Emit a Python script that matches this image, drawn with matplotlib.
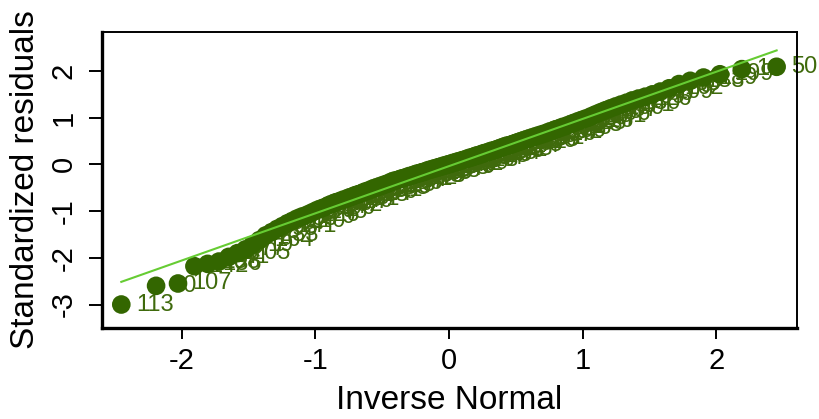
import matplotlib
matplotlib.use("Agg")
import matplotlib.pyplot as plt
import numpy as np
from statistics import NormalDist

# sorted standardized residuals
resid = [
    -3.00, -2.60, -2.55, -2.18, -2.13, -2.08, -1.98, -1.90, -1.82, -1.72,
    -1.62, -1.52, -1.45, -1.38, -1.32, -1.26, -1.21, -1.16, -1.12, -1.09,
    -1.05, -1.01, -0.97, -0.94, -0.91, -0.87, -0.84, -0.81, -0.79, -0.76,
    -0.74, -0.71, -0.69, -0.66, -0.64, -0.62, -0.59, -0.57, -0.55, -0.52,
    -0.50, -0.48, -0.46, -0.44, -0.42, -0.40, -0.37, -0.35, -0.34, -0.32,
    -0.30, -0.29, -0.27, -0.25, -0.24, -0.22, -0.20, -0.19, -0.17, -0.16,
    -0.14, -0.12, -0.11, -0.09, -0.08, -0.06, -0.05, -0.03, -0.02, 0.00,
    0.01, 0.03, 0.04, 0.06, 0.07, 0.09, 0.10, 0.12, 0.14, 0.15,
    0.17, 0.19, 0.20, 0.22, 0.24, 0.25, 0.27, 0.29, 0.30, 0.32,
    0.34, 0.36, 0.38, 0.40, 0.41, 0.43, 0.45, 0.47, 0.49, 0.51,
    0.53, 0.55, 0.57, 0.59, 0.61, 0.63, 0.65, 0.67, 0.70, 0.72,
    0.75, 0.77, 0.80, 0.82, 0.85, 0.88, 0.91, 0.94, 0.97, 1.00,
    1.04, 1.08, 1.12, 1.16, 1.20, 1.24, 1.28, 1.32, 1.37, 1.41,
    1.45, 1.50, 1.56, 1.63, 1.72, 1.79, 1.86, 1.93, 2.04, 2.09,
]

# observation ids used as marker labels
obs_ids = [
    113, 60, 107, 142, 136, 88, 41, 205, 77, 19,
    164, 233, 5, 98, 141, 57, 210, 33, 179, 126,
    8, 245, 71, 190, 14, 102, 66, 227, 149, 39,
    181, 93, 3, 218, 124, 50, 170, 86, 241, 27,
    133, 198, 62, 115, 9, 236, 157, 44, 187, 101,
    74, 212, 24, 145, 168, 95, 6, 229, 119, 53,
    193, 81, 16, 247, 138, 35, 176, 109, 64, 221,
    152, 29, 200, 90, 11, 239, 128, 47, 184, 117,
    70, 215, 160, 22, 195, 104, 58, 243, 131, 37,
    173, 85, 1, 224, 143, 68, 207, 111, 43, 186,
    155, 26, 231, 97, 79, 167, 120, 15, 202, 139,
    52, 248, 92, 31, 178, 125, 65, 216, 147, 20,
    191, 106, 83, 237, 159, 48, 171, 130, 7, 226,
    99, 56, 209, 162, 38, 183, 189, 199, 12, 50,
]

x_ticks = [-2, -1, 0, 1, 2]
y_ticks = [-3, -2, -1, 0, 1, 2]
x_title = "Inverse Normal"
y_title = "Standardized residuals"

plt.rcParams['font.family'] = ['Liberation Sans', 'DejaVu Sans']

n = len(resid)
nd = NormalDist()
theo = np.array([nd.inv_cdf(i / (n + 1)) for i in range(1, n + 1)])
res = np.array(resid)
mu, sd = res.mean(), res.std(ddof=1)

fig = plt.figure(figsize=(8.2, 4.19), dpi=100)
ax = fig.add_axes([102 / 820, (419 - 328) / 419, (797 - 102) / 820, (328 - 32) / 419])

mark_col = '#336600'
lab_col = '#3f6a0c'
line_col = '#66cc33'

for xv, yv, lab in zip(theo, res, obs_ids):
    ax.annotate(str(lab), (xv, yv), xytext=(10.5, 0), textcoords='offset points',
                ha='left', va='center', fontsize=17, color=lab_col, zorder=2,
                annotation_clip=False)
ax.scatter(theo, res, s=180, color=mark_col, edgecolors='none', zorder=3)
xl = np.array([theo.min(), theo.max()])
ax.plot(xl, mu + sd * xl, color=line_col, lw=1.5, zorder=4)

ax.set_xlim(-2.597, 2.605)
ax.set_ylim(-3.503, 2.835)
ax.set_xticks(x_ticks)
ax.set_yticks(y_ticks)
ax.set_xticklabels([str(t) for t in x_ticks], fontsize=21)
ax.set_yticklabels([str(t) for t in y_ticks], fontsize=21, rotation=90, va='center')
ax.tick_params(axis='x', direction='out', length=8, width=1.4, pad=6, colors='black')
ax.tick_params(axis='y', direction='out', length=9.4, width=1.4, pad=8, colors='black')
ax.set_xlabel(x_title, fontsize=24, labelpad=7)
ax.set_ylabel(y_title, fontsize=24, labelpad=6)
for s in ['left', 'bottom']:
    ax.spines[s].set_linewidth(2.4)
for s in ['top', 'right']:
    ax.spines[s].set_linewidth(1.4)

fig.savefig('out.png', dpi=100)
